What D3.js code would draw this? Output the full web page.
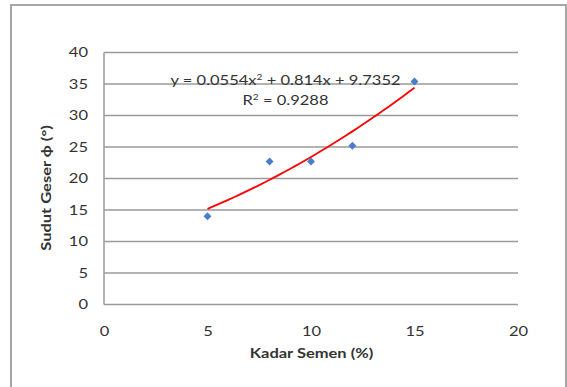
<!DOCTYPE html>
<html>
<head>
<meta charset="utf-8">
<script src="https://cdn.jsdelivr.net/npm/d3@7"></script>
<style>
  body { margin: 0; background: #fff; }
  svg { display: block; font-family: Lato, "Open Sans", sans-serif; }
</style>
</head>
<body>
<script>
// data
var kadarSemen = [5, 8, 10, 12, 15];
var sudutGeser = [14.0, 22.7, 22.7, 25.2, 35.4];
var xTicks = [0, 5, 10, 15, 20];
var yTicks = [0, 5, 10, 15, 20, 25, 30, 35, 40];
// printed trendline: y = 0.0554x^2 + 0.814x + 9.7352
var trendCoef = [9.7352, 0.814, 0.0554];
var trendRange = [5, 15];

var stretch = 1.27; // the source text is drawn wide

var svg = d3.select('body').append('svg')
  .attr('width', 567)
  .attr('height', 387);

// chart border
svg.append('rect')
  .attr('x', 11).attr('y', 5)
  .attr('width', 555).attr('height', 400)
  .attr('fill', 'none')
  .attr('stroke', '#a6a6a6')
  .attr('stroke-width', 2);

var x = d3.scaleLinear().domain([0, 20]).range([104, 518]);
var y = d3.scaleLinear().domain([0, 40]).range([304.5, 52.5]);

// gridlines
svg.selectAll('.grid')
  .data(yTicks)
  .enter()
  .append('line')
  .attr('x1', x(0))
  .attr('x2', x(20))
  .attr('y1', function (d) { return y(d); })
  .attr('y2', function (d) { return y(d); })
  .attr('stroke', '#9a9a9a')
  .attr('stroke-width', 1.5);

// y axis line
svg.append('line')
  .attr('x1', x(0)).attr('x2', x(0))
  .attr('y1', y(40)).attr('y2', y(0))
  .attr('stroke', '#9a9a9a')
  .attr('stroke-width', 1.5);

// tick labels
var yAxis = d3.axisLeft(y).tickValues(yTicks).tickSize(0).tickPadding(12.6);
svg.append('g')
  .attr('transform', 'translate(' + x(0) + ',0)')
  .call(yAxis)
  .call(function (g) { g.select('.domain').remove(); })
  .selectAll('text')
  .attr('font-family', 'Lato, sans-serif')
  .attr('font-size', 13)
  .attr('fill', '#333')
  .attr('transform', 'scale(' + stretch + ',1)');

var xAxis = d3.axisBottom(x).tickValues(xTicks).tickSize(0).tickPadding(22);
svg.append('g')
  .attr('transform', 'translate(0,' + y(0) + ')')
  .call(xAxis)
  .call(function (g) { g.select('.domain').remove(); })
  .selectAll('text')
  .attr('font-family', 'Lato, sans-serif')
  .attr('font-size', 13)
  .attr('fill', '#333')
  .attr('transform', 'scale(' + stretch + ',1)');

// trendline
var trendXs = d3.range(trendRange[0], trendRange[1] + 0.001, 0.25);
var trend = d3.line()
  .x(function (d) { return x(d); })
  .y(function (d) { return y(trendCoef[0] + trendCoef[1] * d + trendCoef[2] * d * d); });
svg.append('path')
  .datum(trendXs)
  .attr('d', trend)
  .attr('fill', 'none')
  .attr('stroke', '#ff0000')
  .attr('stroke-width', 1.8);

// points
svg.selectAll('.pt')
  .data(kadarSemen)
  .enter()
  .append('path')
  .attr('d', d3.symbol().type(d3.symbolDiamond2).size(40))
  .attr('transform', function (d, i) {
    return 'translate(' + x(d) + ',' + y(sudutGeser[i]) + ')';
  })
  .attr('fill', '#4a7ecb');

// helper for stretched text
var label = function (px, py, rot) {
  return svg.append('g')
    .attr('transform', 'translate(' + px + ',' + py + ') rotate(' + rot + ') scale(' + stretch + ',1)')
    .append('text')
    .attr('text-anchor', 'middle')
    .attr('font-size', 13)
    .attr('fill', '#333');
};

// trendline label
var eq = label(285.5, 85, 0);
eq.append('tspan').text('y = 0.0554x');
eq.append('tspan').attr('font-size', 8).attr('dy', -5).text('2');
eq.append('tspan').attr('dy', 5).text(' + 0.814x + 9.7352');

var r2 = label(285.5, 105, 0);
r2.append('tspan').text('R');
r2.append('tspan').attr('font-size', 8).attr('dy', -5).text('2');
r2.append('tspan').attr('dy', 5).text(' = 0.9288');

// axis titles
label(311.5, 358, 0)
  .attr('font-weight', 'bold')
  .text('Kadar Semen (%)');

label(51, 188, -90)
  .attr('font-weight', 'bold')
  .text('Sudut Geser ф (°)');
</script>
</body>
</html>
